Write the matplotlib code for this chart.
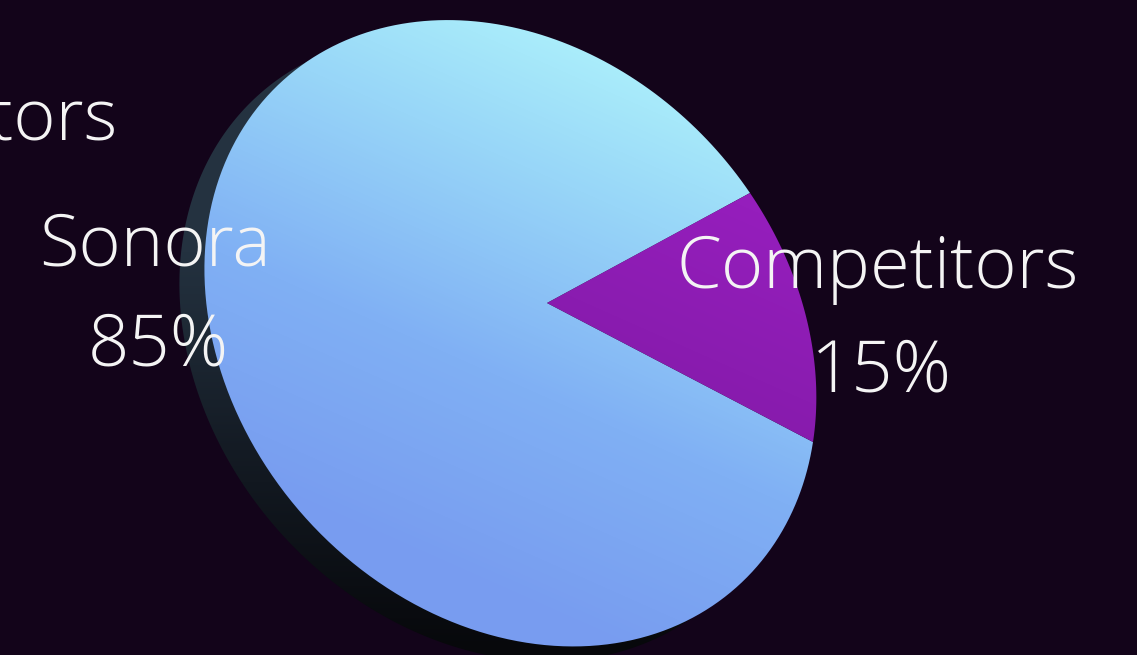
import matplotlib
matplotlib.use("Agg")
import matplotlib.pyplot as plt
import numpy as np
from matplotlib.patches import Polygon
from matplotlib.colors import LinearSegmentedColormap

# chart data
labels = ["Sonora", "Competitors"]
shares = [85, 15]

BG = "#13041a"
W, H = 1137, 655


def homography(src, dst):
    """Solve the 3x3 projective map sending src points to dst points"""
    rows = []
    for (x, y), (u, v) in zip(src, dst):
        rows.append([x, y, 1, 0, 0, 0, -u * x, -u * y, -u])
        rows.append([0, 0, 0, x, y, 1, -v * x, -v * y, -v])
    _, _, vt = np.linalg.svd(np.array(rows))
    return vt[-1].reshape(3, 3)


def apply_h(h, pts):
    p = np.c_[pts, np.ones(len(pts))] @ h.T
    return p[:, :2] / p[:, 2:3]


# tilt of the disc: the slice corners and the centre seen on screen,
# the two opposite rim points are tuned so the disc spans the same box
a = np.radians(27)
src = [(np.cos(a), np.sin(a)), (np.cos(a), -np.sin(a)),
       (-np.cos(a), -np.sin(a)), (-np.cos(a), np.sin(a))]
c = np.array([547.0, 303.0])
p1 = np.array([750.0, 193.0])
p2 = np.array([813.0, 442.0])
th = np.radians(np.linspace(0, 360, 400))
circle = np.c_[np.cos(th), np.sin(th)]
best = None
for t1 in np.linspace(1.2, 1.9, 71):
    for t2 in np.linspace(0.9, 1.5, 61):
        dst = [p1, p2, c + (c - p1) * t1, c + (c - p2) * t2]
        r = apply_h(homography(src, dst), circle)
        err = ((r[:, 1].min() - 19) ** 2 + (r[:, 1].max() - 647) ** 2
               + (r[:, 0].min() - 205) ** 2)
        if best is None or err < best[0]:
            best = (err, dst)
Hm = homography(src, best[1])

fig = plt.figure(figsize=(W / 100, H / 100), dpi=100, facecolor=BG)
ax = fig.add_axes([0, 0, 1, 1])
ax.set_facecolor(BG)

wedges, _ = ax.pie(shares, startangle=27, radius=1, center=(0, 0))
geo = []
for w in wedges:
    ang = np.radians(np.linspace(w.theta1, w.theta2, 200))
    pts = np.c_[np.cos(ang), np.sin(ang)] * w.r
    pts = np.vstack([[0, 0], pts])
    geo.append(apply_h(Hm, pts))
    w.remove()

ax.set_aspect("auto")
ax.set_xlim(0, W)
ax.set_ylim(H, 0)
ax.axis("off")

# full disc outline, used for the side / thickness
rim = apply_h(Hm, circle)

yy, xx = np.mgrid[0:H, 0:W]

# side of the disc
side = Polygon(rim + [-25, 15], closed=True, facecolor="none", edgecolor="none")
ax.add_patch(side)
t_side = np.clip((yy - 250) / 400.0, 0, 1)
side_cmap = LinearSegmentedColormap.from_list("side", ["#243240", "#141b24", "#07080b"])
im = ax.imshow(t_side, cmap=side_cmap, extent=(0, W, H, 0), origin="upper",
               vmin=0, vmax=1, interpolation="bilinear", zorder=1)
im.set_clip_path(side)

# slice faces with a soft light from the top right
face_maps = [
    LinearSegmentedColormap.from_list("blue", ["#b4fafc", "#98d6f8", "#80b0f4", "#789cf0"]),
    LinearSegmentedColormap.from_list("purple", ["#a020c8", "#8a1cb0", "#761896"]),
]
t_face = np.clip(((yy - 20) * 0.9 - (xx - 700) * 0.4) / 600.0, 0, 1)
for pts, cmap in zip(geo, face_maps):
    patch = Polygon(pts, closed=True, facecolor="none", edgecolor="none", zorder=2)
    ax.add_patch(patch)
    im = ax.imshow(t_face, cmap=cmap, extent=(0, W, H, 0), origin="upper",
                   vmin=0, vmax=1, interpolation="bilinear", zorder=2)
    im.set_clip_path(patch)

font = dict(family=["Open Sans", "DejaVu Sans"], fontsize=52, color="#f4f4f4",
            fontweight="light", zorder=5)
label_pos = [(155, 266, 365), (878, 288, 392)]
for name, share, (x, y1, y2) in zip(labels, shares, label_pos):
    ax.text(x, y1, name, ha="center", va="baseline", **font)
    ax.text(x + 3, y2, f"{share}%", ha="center", va="baseline", **font)

# label of a neighbouring slide, cut by the left edge
ax.text(118, 140, labels[1], ha="right", va="baseline", **font)

fig.savefig("out.png", dpi=100, facecolor=BG)
